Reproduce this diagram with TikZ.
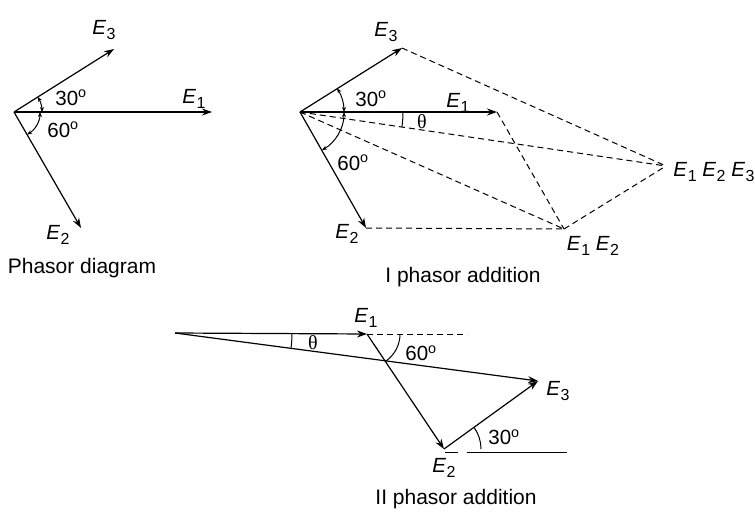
\documentclass[tikz,border=0pt]{standalone}
\usepackage{fontspec}
\setmainfont{Liberation Sans}
\newfontfamily\serifth{Liberation Serif}
\usetikzlibrary{arrows.meta}
\newcommand\Ev[1]{\textit{E}\kern0.5pt\raisebox{-0.45ex}{\fontsize{16}{17}\selectfont #1}}
\newcommand\dg{\textsuperscript{o}}
\begin{document}
\begin{tikzpicture}[x=1pt,y=-1pt,
  ph/.style={line width=1.2pt,-{Stealth[length=10pt,width=7pt]}},
  dl/.style={line width=1pt,dash pattern=on 6pt off 4pt},
  plain/.style={line width=1pt},
  ang/.style={line width=1pt,{Stealth[length=5pt,width=4pt]}-{Stealth[length=5pt,width=4pt]}},
  lab/.style={inner sep=0pt,font=\fontsize{20.5}{24}\selectfont},
  captext/.style={inner sep=0pt,font=\fontsize{21}{24}\selectfont}]
\useasboundingbox (0,0) rectangle (755,514);
% ---------- Diagram 1 ----------
\coordinate (O1) at (14,112);
\coordinate (A1) at (212,112);
\coordinate (A3) at (114,49);
\coordinate (A2) at (81,228);
\draw[ph] (O1) -- (A1);
\draw[ph] (O1) -- (A3);
\draw[ph] (O1) -- (A2);
\draw[ang] ([shift={(-32.6:28)}]O1) arc[start angle=-32.6,end angle=0,radius=28];
\draw[ang] ([shift={(0:26)}]O1) arc[start angle=0,end angle=60,radius=26];
\node[lab] (l1e3) at (104,30) {\Ev{3}};
\node[lab] (l1e1) at (194,99) {\Ev{1}};
\node[lab] (l1e2) at (58,235) {\Ev{2}};
\node[lab] (l130) at (71,98) {30\dg};
\node[lab] (l160) at (63,130) {60\dg};
\node[captext] (c1) at (82,268) {Phasor diagram};
% ---------- Diagram 2 ----------
\coordinate (O2) at (300,112);
\coordinate (B1) at (497,112);
\coordinate (B3) at (402,48);
\coordinate (B2) at (366,228);
\coordinate (B12) at (564,229);
\coordinate (B123) at (666,166);
\draw[ph] (O2) -- (B1);
\draw[ph] (O2) -- (B3);
\draw[ph] (O2) -- (B2);
\draw[dl] (B3) -- (B123);
\draw[dl] (B1) -- (B12);
\draw[dl] (B2) -- (B12);
\draw[dl] (B12) -- (B123);
\draw[dl] (O2) -- (B12);
\draw[dl] (O2) -- (B123);
\draw[ang] ([shift={(-32.6:44)}]O2) arc[start angle=-32.6,end angle=0,radius=44];
\draw[ang] ([shift={(0:44)}]O2) arc[start angle=0,end angle=60,radius=44];
\draw[plain] ([shift={(0:103)}]O2) arc[start angle=0,end angle=8.4,radius=103];
\node[lab] (l2e3) at (386,32) {\Ev{3}};
\node[lab] (l2e1) at (458,103) {\Ev{1}};
\node[lab] (l2e2) at (347,234) {\Ev{2}};
\node[lab] (l230) at (371,99) {30\dg};
\node[lab] (l260) at (353,163) {60\dg};
\node[lab,font=\fontsize{20}{22}\serifth] (l2th) at (422,122) {θ};
\node[lab] (l2e12) at (593,246) {\Ev{1} \Ev{2}};
\node[lab] (l2e123) at (714,172) {\Ev{1} \Ev{2} \Ev{3}};
\node[captext] (c2) at (463,277) {I phasor addition};
% ---------- Diagram 3 ----------
\coordinate (S) at (175,333);
\coordinate (C1) at (367,334);
\coordinate (C2) at (444,449);
\coordinate (C3) at (538,381);
\coordinate (D1) at (467,334);
\coordinate (H0) at (445,452);
\coordinate (H1) at (458,452);
\coordinate (H2) at (467,452);
\coordinate (H3) at (567,452);
\draw[ph] (S) -- (C1);
\draw[ph] (C1) -- (C2);
\draw[ph] (C2) -- (C3);
\draw[ph] (S) -- (C3);
\draw[dl] (C1) -- (D1);
\draw[plain] (H0) -- (H1);
\draw[plain] (H2) -- (H3);
\draw[plain] ([shift={(0:33)}]C1) arc[start angle=0,end angle=56,radius=33];
\draw[plain] ([shift={(0:117)}]S) arc[start angle=0,end angle=7.5,radius=117];
\draw[plain] ([shift={(0:37)}]C2) arc[start angle=0,end angle=-35,radius=37];
\node[lab] (l3e1) at (366,318) {\Ev{1}};
\node[lab] (l3e2) at (444,468) {\Ev{2}};
\node[lab] (l3e3) at (558,391) {\Ev{3}};
\node[lab] (l360) at (421,353) {60\dg};
\node[lab] (l330) at (504,437) {30\dg};
\node[lab,font=\fontsize{20}{22}\serifth] (l3th) at (313,343) {θ};
\node[captext] (c3) at (456,499) {II phasor addition};
\end{tikzpicture}
\end{document}
